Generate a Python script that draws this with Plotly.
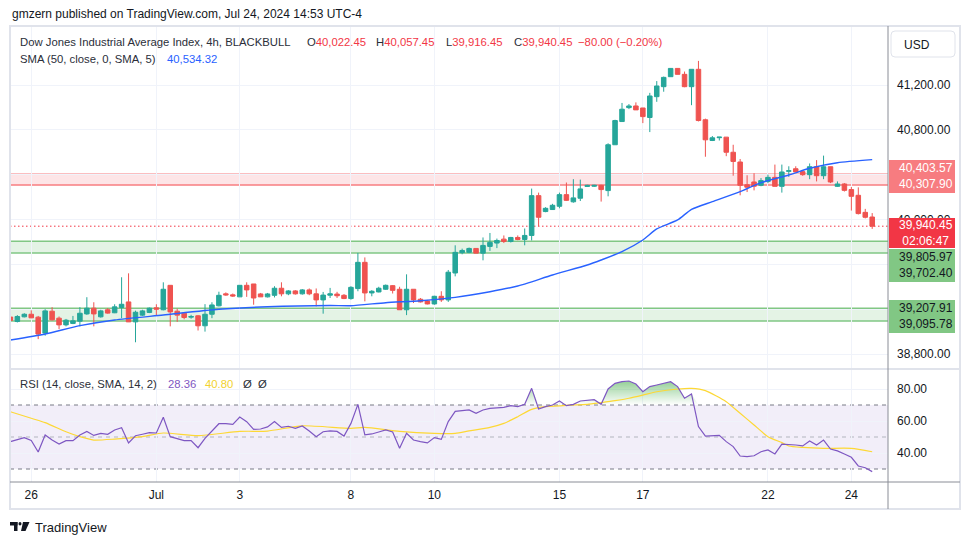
import plotly.graph_objects as go

# ---------------- data ----------------
bars = list(range(125))
opens = [39130, 39090, 39132, 39155, 39129, 38987, 39182, 39120, 39060, 39073,
         39093, 39158, 39209, 39132, 39195, 39168, 39215, 39265, 39087, 39147,
         39171, 39212, 39195, 39413, 39182, 39164, 39129, 39141, 39052, 39155,
         39230, 39337, 39328, 39310, 39413, 39425, 39336, 39310, 39324, 39387,
         39337, 39363, 39337, 39372, 39337, 39283, 39325, 39335, 39324, 39295,
         39384, 39618, 39345, 39354, 39378, 39410, 39378, 39195, 39378, 39289,
         39274, 39247, 39315, 39283, 39523, 39704, 39707, 39742, 39700, 39760,
         39790, 39825, 39804, 39840, 39822, 39858, 40213, 40071, 40089, 40118,
         40222, 40158, 40190, 40295, 40297, 40305, 40258, 40667, 40874, 40998,
         41013, 40995, 40910, 41096, 41185, 41274, 41348, 41295, 41185, 41340,
         40890, 40705, 40730, 40735, 40600, 40513, 40310, 40335, 40305, 40340,
         40376, 40296, 40430, 40453, 40427, 40400, 40471, 40391, 40471, 40296,
         40317, 40267, 40216, 40064, 40022.45]
highs = [39140, 39147, 39164, 39190, 39140, 39200, 39218, 39135, 39113, 39140,
         39218, 39307, 39262, 39195, 39210, 39244, 39485, 39520, 39187, 39195,
         39215, 39244, 39440, 39413, 39205, 39175, 39150, 39147, 39245, 39262,
         39356, 39350, 39340, 39413, 39440, 39425, 39345, 39345, 39405, 39440,
         39370, 39370, 39380, 39385, 39385, 39354, 39390, 39355, 39335, 39405,
         39702, 39662, 39370, 39400, 39420, 39415, 39400, 39511, 39378, 39300,
         39283, 39320, 39360, 39550, 39770, 39740, 39750, 39742, 39840, 39880,
         39830, 39858, 39845, 39858, 39920, 40276, 40240, 40110, 40140, 40240,
         40330, 40360, 40356, 40310, 40310, 40310, 40680, 40890, 41040, 41030,
         41045, 40995, 41130, 41235, 41275, 41350, 41350, 41320, 41340, 41415,
         40900, 40745, 40735, 40735, 40667, 40540, 40395, 40413, 40370, 40400,
         40490, 40490, 40475, 40475, 40440, 40500, 40530, 40570, 40471, 40340,
         40325, 40290, 40287, 40095, 40057.45]
lows = [39090, 39082, 39127, 39120, 38933, 38963, 39100, 39022, 39047, 39067,
        39047, 39150, 39047, 39125, 39160, 39165, 39120, 39087, 38905, 39140,
        39165, 39147, 39190, 39047, 39087, 39110, 39115, 39010, 39000, 39120,
        39225, 39320, 39310, 39310, 39310, 39240, 39310, 39305, 39305, 39315,
        39325, 39330, 39330, 39325, 39225, 39160, 39300, 39300, 39290, 39285,
        39360, 39270, 39315, 39350, 39372, 39340, 39195, 39147, 39255, 39260,
        39243, 39240, 39265, 39265, 39493, 39690, 39700, 39700, 39636, 39720,
        39745, 39790, 39795, 39815, 39770, 39813, 39940, 40065, 40085, 40100,
        40165, 40150, 40165, 40290, 40290, 40160, 40207, 40667, 40874, 40985,
        40978, 40860, 40780, 41050, 41140, 41274, 41295, 41180, 41020, 40875,
        40560, 40700, 40705, 40565, 40391, 40216, 40245, 40260, 40297, 40325,
        40296, 40240, 40380, 40424, 40390, 40360, 40340, 40360, 40325, 40290,
        40250, 40080, 40045, 40010, 39916.45]
closes = [39100, 39135, 39155, 39123, 38978, 39185, 39105, 39060, 39102, 39096,
          39164, 39209, 39158, 39185, 39165, 39221, 39244, 39087, 39173, 39185,
          39209, 39200, 39378, 39176, 39147, 39126, 39135, 39052, 39155, 39238,
          39324, 39328, 39318, 39413, 39372, 39300, 39310, 39336, 39387, 39337,
          39363, 39337, 39372, 39337, 39283, 39326, 39337, 39320, 39295, 39395,
          39618, 39345, 39360, 39387, 39413, 39368, 39195, 39378, 39283, 39265,
          39247, 39315, 39283, 39530, 39707, 39724, 39742, 39700, 39769, 39796,
          39813, 39804, 39840, 39822, 39858, 40213, 40020, 40100, 40127, 40222,
          40171, 40193, 40273, 40305, 40305, 40267, 40667, 40883, 40984, 41013,
          40978, 40918, 41102, 41191, 41268, 41348, 41295, 41185, 41340, 40883,
          40711, 40729, 40735, 40600, 40518, 40305, 40288, 40297, 40347, 40376,
          40296, 40424, 40435, 40424, 40400, 40471, 40391, 40471, 40335, 40317,
          40260, 40207, 40053, 40020, 39940.45]

sma_x = [0, 5, 10, 15, 22, 30, 37, 46, 49, 54, 59, 64, 69, 73, 78, 83, 85, 88,
         91, 93, 96, 98, 101, 105, 108, 112, 115, 119, 124]
sma_y = [38925, 38979, 39053, 39104, 39148, 39199, 39222, 39233, 39231, 39258,
         39276, 39306, 39356, 39407, 39505, 39594, 39639, 39713, 39817, 39916,
         39996, 40091, 40159, 40248, 40329, 40397, 40457, 40507, 40534.32]

rsi = [47.1, 48.5, 49.6, 47.9, 40.6, 51.3, 48.1, 45.6, 47.7, 47.7,
       51.3, 53.5, 51.0, 52.3, 51.7, 54.4, 55.8, 46.3, 50.8, 51.7,
       52.7, 52.5, 62.3, 50.2, 48.8, 47.7, 47.7, 43.3, 49.2, 54.0,
       58.3, 58.3, 57.9, 62.5, 59.6, 54.8, 55.0, 56.3, 59.6, 56.0,
       56.7, 55.4, 56.9, 53.8, 50.2, 53.3, 53.8, 53.5, 50.6, 58.5,
       70.4, 51.3, 51.9, 53.1, 54.4, 53.1, 42.9, 52.3, 48.1, 47.1,
       46.3, 49.6, 48.5, 59.6, 66.0, 66.5, 66.9, 64.8, 66.9, 67.9,
       68.3, 68.5, 69.6, 69.0, 70.4, 80.4, 67.5, 69.0, 70.0, 72.5,
       69.6, 70.4, 72.5, 73.1, 73.3, 70.4, 80.0, 83.5, 84.6, 85.0,
       83.1, 78.3, 81.5, 82.5, 83.5, 84.6, 81.5, 74.2, 76.9, 56.5,
       50.6, 51.0, 51.0, 47.1, 44.0, 38.1, 37.7, 38.3, 40.8, 41.9,
       39.4, 45.6, 45.4, 45.0, 44.4, 47.5, 45.0, 48.1, 42.5, 41.3,
       39.4, 37.3, 31.9, 30.8, 28.36]

rsi_ma_x = [0, 3, 5, 8, 10, 12, 15, 19, 22, 27, 33, 37, 42, 49, 51, 56, 61, 64,
            66, 69, 71, 73, 75, 77, 79, 80, 83, 85, 87, 89, 91, 93, 96, 98,
            100, 103, 105, 107, 109, 111, 112, 114, 117, 121, 124]
rsi_ma_y = [65.8, 61.7, 59.0, 53.3, 50.2, 48.1, 48.7, 50.2, 52.5, 50.8, 53.5,
            53.7, 57.0, 55.4, 56.0, 53.5, 52.3, 52.3, 53.8, 56.0, 58.5, 62.7,
            67.3, 69.0, 69.4, 69.8, 70.4, 71.5, 72.7, 74.2, 76.2, 78.3, 80.0,
            80.4, 79.0, 72.1, 64.8, 57.5, 50.2, 46.5, 44.4, 43.5, 42.9, 42.9, 40.8]

date_ticks = [3, 21, 33, 49, 61, 79, 91, 109, 121]
date_labels = ["26", "Jul", "3", "8", "10", "15", "17", "22", "24"]
price_ticks = [38800, 40000, 40800, 41200]          # labelled
price_hidden_ticks = [39200, 39600, 40400]          # grid only (labels hidden behind boxes)
rsi_ticks = [40, 60, 80]
red_zone = [40307.90, 40403.57]
green_zone_hi = [39702.40, 39805.97]
green_zone_lo = [39095.78, 39207.91]
last_price = 39940.45
rsi_upper, rsi_mid, rsi_lower = 70, 50, 30
sma_last = 40534.32
rsi_last = 28.36
rsi_ma_last = 40.80
ohlc_last = dict(O=40022.45, H=40057.45, L=39916.45, C=39940.45)
change, change_pct = -80.00, -0.20

# ---------------- geometry ----------------
W, H = 970, 545
L, R, T, B = 10, 82, 27, 63
PW, PH = W - L - R, H - T - B
FONT = "Liberation Sans"
UP, DN = "#26A69A", "#EF5350"
TXT = "#131722"
LEG = "#2A2E39"
LS = 11.3  # legend font size


def fx(x):
    return (x - L) / PW


def fy(y):
    return 1 - (y - T) / PH


def txt(x, y, s, color=TXT, size=12, anchor="left"):
    return dict(x=fx(x), y=fy(y), xref="paper", yref="paper", text=s,
                showarrow=False, xanchor=anchor, yanchor="middle",
                font=dict(family=FONT, size=size, color=color))


def prect(x0, y0, x1, y1, fill, line=None, lw=0, layer="above"):
    return dict(type="rect", xref="paper", yref="paper", x0=fx(x0), x1=fx(x1),
                y0=fy(y0), y1=fy(y1), fillcolor=fill,
                line=dict(color=line or fill, width=lw), layer=layer)


def pline(x0, y0, x1, y1, color, width=1, dash="solid"):
    return dict(type="line", xref="paper", yref="paper", x0=fx(x0), x1=fx(x1),
                y0=fy(y0), y1=fy(y1), line=dict(color=color, width=width, dash=dash),
                layer="above")


fig = go.Figure()

fig.add_trace(go.Candlestick(
    x=bars, open=opens, high=highs, low=lows, close=closes,
    increasing=dict(line=dict(color=UP, width=1), fillcolor=UP),
    decreasing=dict(line=dict(color=DN, width=1), fillcolor=DN),
    whiskerwidth=0, xaxis="x", yaxis="y", hoverinfo="skip", showlegend=False))

fig.add_trace(go.Scatter(x=sma_x, y=sma_y, mode="lines",
                         line=dict(color="#2962FF", width=1.4, shape="spline", smoothing=0.6),
                         xaxis="x", yaxis="y", hoverinfo="skip", showlegend=False))

# RSI overbought gradient fill
fig.add_trace(go.Scatter(x=bars, y=[rsi_upper] * len(bars), mode="lines",
                         line=dict(width=0), xaxis="x2", yaxis="y2",
                         hoverinfo="skip", showlegend=False))
fig.add_trace(go.Scatter(x=bars, y=[max(v, rsi_upper) for v in rsi], mode="lines",
                         line=dict(width=0), fill="tonexty",
                         fillgradient=dict(type="vertical",
                                           colorscale=[[0, "rgba(76,175,80,0)"],
                                                       [1, "rgba(76,175,80,0.6)"]]),
                         xaxis="x2", yaxis="y2", hoverinfo="skip", showlegend=False))
fig.add_trace(go.Scatter(x=rsi_ma_x, y=rsi_ma_y, mode="lines",
                         line=dict(color="#FDD835", width=1.2, shape="spline", smoothing=0.6),
                         xaxis="x2", yaxis="y2", hoverinfo="skip", showlegend=False))
fig.add_trace(go.Scatter(x=bars, y=rsi, mode="lines",
                         line=dict(color="#7E57C2", width=1.2),
                         xaxis="x2", yaxis="y2", hoverinfo="skip", showlegend=False))

xr = [(L - 10.4) / 6.95, (L + PW - 10.4) / 6.95]
y_per_px = 0.1121
yr = [41200 - (368 - 85) / y_per_px, 41200 + (85 - T) / y_per_px]
rr = [80 - (482 - 389) / 1.6, 80 + (389 - 370) / 1.6]

grid = "#F0F3FA"
shapes = []
# zones
for (lo, hi), fill, ln in [(red_zone, "rgba(242,54,69,0.13)", "#F77C80"),
                           (green_zone_hi, "rgba(76,175,80,0.15)", "#81C784"),
                           (green_zone_lo, "rgba(76,175,80,0.15)", "#81C784")]:
    shapes.append(dict(type="rect", xref="paper", yref="y", x0=0, x1=1, y0=lo, y1=hi,
                       fillcolor=fill, line=dict(width=0), layer="between"))
    for v in (lo, hi):
        shapes.append(dict(type="line", xref="paper", yref="y", x0=0, x1=1, y0=v, y1=v,
                           line=dict(color=ln, width=1.5), layer="between"))
# last price dotted line
shapes.append(dict(type="line", xref="paper", yref="y", x0=0, x1=1, y0=last_price,
                   y1=last_price, line=dict(color="#F23645", width=1, dash="1.5px,2.5px"),
                   layer="between"))
# RSI band and levels
shapes.append(dict(type="rect", xref="paper", yref="y2", x0=0, x1=1, y0=rsi_lower,
                   y1=rsi_upper, fillcolor="rgba(126,87,194,0.1)", line=dict(width=0),
                   layer="between"))
for v, c in [(rsi_upper, "#787B86"), (rsi_lower, "#787B86"), (rsi_mid, "#B2B5BE")]:
    shapes.append(dict(type="line", xref="paper", yref="y2", x0=0, x1=1, y0=v, y1=v,
                       line=dict(color=c, width=1, dash="4px,4px"), layer="between"))

# frame and separators
shapes.append(prect(10, 26, 960, 509, "rgba(0,0,0,0)", "#E0E3EB", 2))
shapes.append(pline(10, 369, 960, 369, "#E0E3EB", 2))
shapes.append(pline(10, 482, 960, 482, "#8A8D96", 1))
shapes.append(pline(888, 26, 888, 509, "#8A8D96", 1))

# right-side price labels
shapes.append(prect(889, 160, 955, 193, "#F77C80"))
shapes.append(prect(889, 218, 955, 248, "#F23645"))
shapes.append(prect(889, 249, 955, 282, "#81C784"))
shapes.append(prect(889, 300, 955, 333, "#81C784"))

# USD rounded box
x0, x1, y0, y1, r = fx(891), fx(955), fy(31), fy(57), 4
rx, ry = r / PW, r / PH
shapes.append(dict(type="path", xref="paper", yref="paper",
                   path=(f"M {x0+rx},{y0} L {x1-rx},{y0} Q {x1},{y0} {x1},{y0-ry} "
                         f"L {x1},{y1+ry} Q {x1},{y1} {x1-rx},{y1} L {x0+rx},{y1} "
                         f"Q {x0},{y1} {x0},{y1+ry} L {x0},{y0-ry} Q {x0},{y0} {x0+rx},{y0} Z"),
                   fillcolor="white", line=dict(color="#E0E3EB", width=1), layer="above"))

# TradingView logo (approximation)
shapes.append(prect(10, 522, 17.5, 525.5, TXT))
shapes.append(prect(14, 522, 17.5, 531, TXT))
shapes.append(dict(type="circle", xref="paper", yref="paper", x0=fx(18.5), x1=fx(21.5),
                   y0=fy(522), y1=fy(525.5), fillcolor=TXT, line=dict(width=0)))
shapes.append(dict(type="path", xref="paper", yref="paper",
                   path=(f"M {fx(23)},{fy(522)} L {fx(29.5)},{fy(522)} L {fx(25.5)},{fy(531)} "
                         f"L {fx(21)},{fy(531)} Z"), fillcolor=TXT, line=dict(width=0)))

red = "#F23645"


def fmt(v):
    return f"{v:,.2f}"


ann = [
    txt(10, 14, "gmzern published on TradingView.com, Jul 24, 2024 14:53 UTC-4"),
    txt(18, 42, "Dow Jones Industrial Average Index, 4h, BLACKBULL", color=LEG, size=LS),
    txt(305, 42, f"O<span style='color:{red}'>{fmt(ohlc_last['O'])}</span>", color=LEG, size=LS),
    txt(374, 42, f"H<span style='color:{red}'>{fmt(ohlc_last['H'])}</span>", color=LEG, size=LS),
    txt(444, 42, f"L<span style='color:{red}'>{fmt(ohlc_last['L'])}</span>", color=LEG, size=LS),
    txt(512, 42, f"C<span style='color:{red}'>{fmt(ohlc_last['C'])}</span>", color=LEG, size=LS),
    txt(576, 42, f"−{abs(change):.2f} (−{abs(change_pct):.2f}%)", color=red, size=LS),
    txt(18, 59, "SMA (50, close, 0, SMA, 5)", color=LEG, size=LS),
    txt(165, 59, fmt(sma_last), color="#2962FF", size=LS),
    txt(18, 384, "RSI (14, close, SMA, 14, 2)", color=LEG, size=LS),
    txt(166, 384, f"{rsi_last:.2f}", color="#7E57C2", size=LS),
    txt(203, 384, f"{rsi_ma_last:.2f}", color="#F2D22E", size=LS),
    txt(241, 384, "Ø", color=LEG, size=LS),
    txt(256, 384, "Ø", color=LEG, size=LS),
    txt(902, 45, "USD", color=TXT),
    txt(897, 176.5, f"{fmt(red_zone[1])}<br>{fmt(red_zone[0])}", color="white"),
    txt(897, 233.5, f"{fmt(last_price)}<br>02:06:47", color="white"),
    txt(897, 265, f"{fmt(green_zone_hi[1])}<br>{fmt(green_zone_hi[0])}"),
    txt(897, 316, f"{fmt(green_zone_lo[1])}<br>{fmt(green_zone_lo[0])}"),
    txt(33, 527, "TradingView", size=13),
]

axfont = dict(family=FONT, size=12, color=TXT)
fig.update_layout(
    width=W, height=H, margin=dict(l=L, r=R, t=T, b=B, pad=0),
    paper_bgcolor="white", plot_bgcolor="white", showlegend=False,
    boxgap=0.35, boxgroupgap=0,
    xaxis=dict(domain=[0, 1], anchor="y", range=xr, tickvals=date_ticks,
               showticklabels=False, showgrid=True, gridcolor=grid, zeroline=False,
               showline=False, ticks="", rangeslider=dict(visible=False)),
    yaxis=dict(domain=[fy(368), 1], anchor="x", range=yr, side="right",
               tickvals=price_ticks, tickformat=",.2f", showgrid=True, gridcolor=grid,
               zeroline=False, showline=False, ticks="", tickfont=axfont,
               ticklabelstandoff=8,
               minor=dict(tickvals=price_hidden_ticks, showgrid=True, gridcolor=grid,
                          ticks="")),
    xaxis2=dict(domain=[0, 1], anchor="y2", range=xr, tickvals=date_ticks,
                ticktext=date_labels, showgrid=True, gridcolor=grid, zeroline=False,
                showline=False, ticks="", tickfont=axfont, ticklabelstandoff=4),
    yaxis2=dict(domain=[0, fy(370)], anchor="x2", range=rr, side="right",
                tickvals=rsi_ticks, tickformat=".2f", showgrid=True, gridcolor=grid,
                zeroline=False, showline=False, ticks="", tickfont=axfont,
                ticklabelstandoff=8),
    shapes=shapes, annotations=ann,
)

fig.write_html("out.html", config=dict(displayModeBar=False),
               post_script="document.body.style.margin='0px';")
